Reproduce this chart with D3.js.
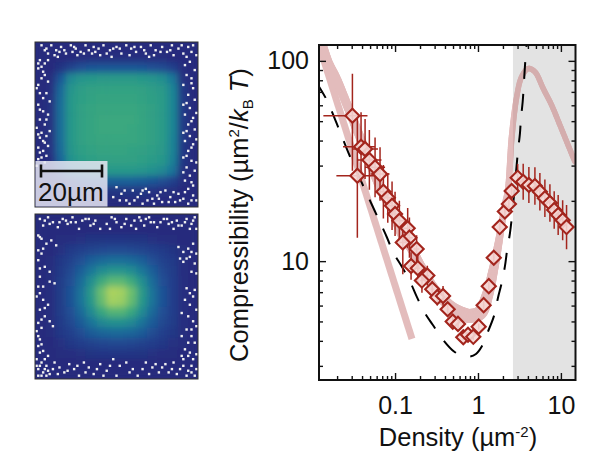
<!DOCTYPE html>
<html><head><meta charset="utf-8">
<script src="https://cdn.jsdelivr.net/npm/d3@7"></script>
<style>html,body{margin:0;background:#fff}svg{display:block}text{font-family:"Liberation Sans",Arial,sans-serif;fill:#111}</style>
</head><body><svg id="c" width="591" height="473"></svg>
<script>
// ---------- chart data ----------
const density = [0.0306,0.0351,0.0389,0.0435,0.049,0.0574,0.0659,0.0723,0.0817,0.092,0.1,0.1127,0.142,0.149,0.124,0.182,0.156,0.188,0.245,0.211,0.281,0.323,0.379,0.431,0.496,0.574,0.665,0.758,0.878,1.02,1.17,1.35,1.55,1.83,2.11,2.36,2.55,3.01,3.51,4.11,4.86,5.58,6.41,7.37,8.3,9.27,10.5,11.7];
const compress = [53.2,26.7,37.2,36.3,32,29.4,27.2,22.2,20.7,18.9,17.2,15.9,14.6,13.1,12.4,11.5,9.46,9.22,8.47,8,7.24,6.61,6.7,5.75,4.99,4.86,4.17,4.29,4.19,4.71,6.03,7.5,10.4,14.8,17.7,19.3,22.4,26.1,24.9,24,23.7,22.2,20.6,19.5,18,17,16,14.8];
const errUp   = [1.62,1.99,1.49,1.41,1.41,1.41,1.36,1.36,1.33,1.32,1.29,1.26,1.26,1.26,1.2,1.17,1.17,1.19,1.12,1.15,1.1,1.1,1.12,1.07,1.06,1.05,1.035,1.035,1.035,1.035,1.05,1.05,1.06,1.06,1.06,1.06,1.07,1.17,1.23,1.23,1.24,1.24,1.24,1.24,1.24,1.26,1.26,1.29];
const errDown = [1.88,2.04,1.49,1.41,1.41,1.41,1.36,1.36,1.33,1.32,1.29,1.26,1.26,1.26,1.44,1.17,1.17,1.19,1.12,1.15,1.1,1.1,1.12,1.07,1.06,1.05,1.035,1.035,1.035,1.035,1.05,1.05,1.06,1.06,1.06,1.06,1.07,1.17,1.23,1.23,1.24,1.24,1.24,1.24,1.24,1.26,1.26,1.29];
const xErrLeft  = [2.24,1.79,1.65,1.43,1.4,1.32,1.3,1.25,1.22,1.2,1.18,1.15,1.12,1.1,1.1,1.08,1.08,1.06,1.05,1.05,1.04,1.04,1.03,1.03,1.02,1.02,1.02,1.02,1.02,1.02,1.02,1.02,1.02,1.02,1.02,1.02,1.02,1.02,1.02,1.02,1.02,1.02,1.02,1.02,1.02,1.02,1.02,1.02];
const xErrRight = [1.52,1.65,1.47,1.43,1.4,1.32,1.3,1.25,1.22,1.2,1.18,1.15,1.12,1.1,1.1,1.08,1.08,1.06,1.05,1.05,1.04,1.04,1.03,1.03,1.02,1.02,1.02,1.02,1.02,1.02,1.02,1.02,1.02,1.02,1.02,1.02,1.02,1.02,1.02,1.02,1.02,1.02,1.02,1.02,1.02,1.02,1.02,1.02];
const bandD = [0.0125,0.0156,0.01946,0.025,0.033,0.0435,0.0528,0.0697,0.092,0.1214,0.16,0.211,0.279,0.368,0.486,0.641,0.8,1.06,1.28,1.56,1.84,2.11,2.3,2.55,2.93,3.36,4.04,4.86,6.12,7.73,9.73,12.2,14.8];
const bandC = [130,98.5,82,63.7,47.8,35.9,29.2,22.1,18,13.5,11.4,9.25,7.6,6.55,5.84,5.46,5.33,5.52,6.62,9.35,13.5,19,22.6,41.6,66.1,83.2,91.6,88.1,72.8,60.1,47.8,38,31.3];
const lineD = [0.0121,0.16];
const lineC = [120,4.09];
const dashD = [0.0114,0.01503,0.0217,0.0287,0.05,0.0794,0.0946,0.1205,0.1517,0.1825,0.2236,0.2845,0.379,0.514,0.641,0.8,0.946,1.11,1.32,1.56,1.74,1.93,2.11,2.25,2.43,2.64,2.87,3.03,3.21,3.3,3.46,3.68,3.89];
const dashC = [77.4,63.7,44.2,33.2,20,13.2,11.1,9.39,7.9,6.65,5.6,4.81,4.05,3.54,3.39,3.34,3.44,3.75,4.45,5.33,6.55,7.78,9.39,11.4,13.8,18.7,27.5,35.2,43.6,51.8,62.5,93.3,127];
const shadeFrom = 2.64, shadeTo = 15;
const xMajor = [0.1,1,10];
const xMinor = [0.02,0.03,0.04,0.05,0.06,0.07,0.08,0.09,0.2,0.3,0.4,0.5,0.6,0.7,0.8,0.9,2,3,4,5,6,7,8,9];
const yMajor = [10,100];
const yMinor = [3,4,5,6,7,8,9,20,30,40,50,60,70,80,90];
// image panels: coarse brightness grid (0..1) and hot-pixel locations (percent of panel)
const img1 = [
[.02,.02,.02,.02,.02,.02,.02,.02,.02,.02,.02,.02,.02,.02,.02,.02],
[.02,.02,.02,.02,.03,.04,.04,.04,.04,.04,.04,.03,.03,.02,.02,.02],
[.02,.02,.06,.13,.19,.21,.22,.22,.22,.22,.21,.19,.17,.12,.03,.02],
[.02,.03,.22,.44,.50,.52,.53,.53,.53,.53,.52,.50,.47,.36,.05,.02],
[.02,.04,.29,.50,.55,.57,.58,.58,.58,.58,.57,.55,.53,.42,.08,.02],
[.02,.05,.31,.52,.56,.58,.59,.59,.59,.59,.58,.56,.54,.43,.09,.02],
[.02,.05,.32,.52,.57,.59,.60,.60,.60,.60,.59,.57,.54,.43,.09,.02],
[.02,.05,.32,.52,.57,.59,.61,.61,.61,.61,.59,.57,.54,.43,.09,.02],
[.02,.05,.32,.52,.57,.59,.61,.61,.61,.60,.59,.57,.54,.43,.09,.02],
[.02,.05,.32,.52,.57,.59,.60,.60,.60,.60,.59,.57,.54,.42,.09,.02],
[.02,.05,.31,.51,.56,.58,.59,.59,.59,.58,.57,.56,.53,.42,.08,.02],
[.02,.04,.28,.49,.54,.56,.57,.57,.57,.57,.56,.54,.52,.40,.07,.02],
[.02,.03,.22,.42,.48,.50,.52,.52,.52,.52,.50,.48,.44,.34,.05,.02],
[.02,.02,.05,.13,.20,.24,.26,.26,.26,.26,.24,.21,.18,.12,.03,.02],
[.02,.02,.02,.03,.05,.06,.06,.06,.06,.06,.06,.05,.04,.03,.02,.02],
[.02,.02,.02,.02,.02,.02,.02,.02,.02,.02,.02,.02,.02,.02,.02,.02]];
const img2 = [
[.02,.02,.02,.02,.02,.02,.02,.02,.02,.02,.02,.02,.02,.02,.02,.02],
[.02,.02,.02,.02,.02,.02,.02,.02,.02,.02,.02,.02,.02,.02,.02,.02],
[.02,.02,.03,.04,.05,.06,.06,.07,.07,.06,.06,.05,.04,.03,.02,.02],
[.02,.02,.05,.09,.12,.14,.16,.17,.17,.16,.14,.12,.09,.06,.03,.02],
[.02,.03,.08,.13,.19,.25,.30,.32,.32,.30,.25,.19,.13,.09,.04,.02],
[.02,.03,.09,.16,.25,.36,.46,.50,.50,.46,.36,.25,.16,.10,.04,.02],
[.02,.03,.10,.19,.31,.47,.62,.70,.70,.62,.47,.31,.19,.11,.04,.02],
[.02,.03,.10,.20,.34,.53,.74,.88,.86,.74,.53,.34,.20,.11,.04,.02],
[.02,.03,.10,.20,.34,.52,.72,.86,.84,.72,.52,.34,.20,.11,.04,.02],
[.02,.03,.10,.19,.30,.45,.60,.68,.68,.60,.45,.30,.19,.11,.04,.02],
[.02,.03,.09,.16,.24,.34,.44,.48,.48,.44,.34,.24,.16,.10,.04,.02],
[.02,.03,.08,.12,.18,.24,.28,.30,.30,.28,.24,.18,.12,.08,.03,.02],
[.02,.02,.05,.08,.11,.13,.15,.16,.16,.15,.13,.11,.08,.05,.03,.02],
[.02,.02,.03,.04,.05,.06,.07,.07,.07,.07,.06,.05,.04,.03,.02,.02],
[.02,.02,.02,.02,.02,.02,.02,.02,.02,.02,.02,.02,.02,.02,.02,.02],
[.02,.02,.02,.02,.02,.02,.02,.02,.02,.02,.02,.02,.02,.02,.02,.02]];
const spots1 = [[4,2],[7,4],[10,2],[13,5],[16,3],[19,7],[22,2],[25,4],[28,6],[31,2],[23,6],[36,3],[35,7],[39,4],[42,2],[46,5],[50,3],[47,9],[53,7],[56,2],[59,4],[62,6],[65,3],[68,7],[71,2],[74,5],[78,3],[81,6],[84,2],[88,4],[91,7],[94,3],[97,2],[96,6],[85,8],[70,9],[40,8],[14,9],
[6,5],[8,7],[12,8],[15,6],[24,3],[26,8],[33,5],[37,6],[44,7],[48,4],[52,4],[58,8],[61,3],[67,5],[73,8],[77,6],[83,5],[90,2],[93,9],[99,8],[18,5],[30,7],
[3,11],[6,13],[8,11],[2,16],[5,18],[4,22],[8,24],[1,28],[3,31],[7,31],[9,36],[2,38],[5,42],[8,44],[3,47],[6,50],[1,52],[4,55],[9,54],[3,58],[6,61],[2,64],[5,66],[8,63],[4,70],[7,69],[2,71],
[2,13],[4,15],[6,20],[2,26],[5,34],[3,41],[7,47],[2,56],[5,60],[7,57],[3,67],[6,73],[1,75],[4,76],
[92,14],[95,12],[98,17],[93,20],[96,22],[91,26],[97,28],[94,32],[98,35],[91,38],[95,40],[92,44],[97,46],[94,50],[98,53],[91,55],[95,57],[92,60],[97,62],[94,66],[91,70],[96,72],[93,76],[98,78],[95,81],[92,84],[97,87],
[96,25],[93,37],[99,43],[96,48],[93,54],[99,59],[96,64],[93,69],[99,73],[91,79],[96,85],[94,89],
[50,88],[53,92],[56,96],[60,90],[63,94],[66,98],[70,91],[72,95],[68,89],[75,93],[78,97],[80,90],[83,94],[86,97],[88,92],[91,95],[94,98],[97,93],[99,96],[58,98],[48,94],
[52,96],[55,90],[61,96],[65,92],[69,96],[73,98],[77,91],[82,97],[85,91],[89,96],[92,91],[96,96],[66,90],[76,95]];
const spots2 = [[3,3],[5,7],[8,2],[11,5],[14,8],[17,3],[20,6],[23,2],[25,5],[27,9],[31,3],[34,7],[37,4],[40,9],[44,6],[47,2],[50,5],[53,8],[46,9],[56,3],[59,7],[62,9],[65,4],[67,7],[70,2],[73,5],[75,8],[79,3],[82,6],[85,9],[87,4],[90,7],[93,3],[96,6],[98,2],[99,9],
[6,4],[9,6],[15,5],[19,4],[22,5],[29,4],[33,3],[36,6],[49,3],[55,6],[61,4],[64,2],[68,3],[71,5],[77,5],[81,3],[84,5],[88,7],[92,5],[95,9],[97,4],
[2,13],[4,15],[7,18],[10,16],[13,19],[2,22],[4,24],[6,32],[9,35],[3,38],[9,41],[5,44],[12,42],[3,48],[1,50],[5,52],[8,55],[3,58],[6,62],[9,65],[2,66],[4,69],[1,71],[11,68],[3,76],[2,80],[5,83],[8,86],[1,88],
[3,14],[5,21],[2,28],[3,33],[2,44],[6,57],[4,64],[2,74],[4,79],[3,84],[6,88],
[88,20],[91,23],[94,21],[97,18],[99,24],[91,29],[95,26],[89,27],[98,30],[96,35],[93,45],[98,46],[92,52],[97,50],[95,55],[90,60],[94,62],[97,65],[99,68],[93,70],[90,74],[96,74],[98,78],[92,82],[95,84],[90,86],[97,88],
[96,23],[93,27],[99,36],[95,48],[99,58],[96,70],[94,78],[91,88],[94,86],[99,85],
[4,90],[7,92],[2,94],[5,96],[9,97],[12,90],[15,93],[18,96],[21,91],[24,94],[27,98],[30,90],[33,93],[36,97],[40,91],[44,95],[48,88],[52,92],[56,90],[60,94],[63,98],[68,90],[72,93],[76,96],[80,91],[84,94],[87,97],[91,92],[94,95],[98,98],[50,98],[2,98],[1,92],
[3,92],[6,94],[8,95],[4,98],[7,98],[11,94],[14,97],[20,95],[26,92],[31,96],[38,94],[42,98],[46,92],[58,96],[66,94],[70,97],[74,91],[78,93],[82,96],[85,90],[89,94],[93,98],[96,92],[96,96],[99,94]];

// ---------- drawing ----------
const svg = d3.select("#c");
const x = d3.scaleLog().domain([0.0121,15]).range([319,575.5]);
const y = d3.scaleLog().domain([120,2.55]).range([45,380]);
const defs = svg.append("defs");
defs.append("clipPath").attr("id","plot").append("rect")
  .attr("x",319).attr("y",45).attr("width",256.5).attr("height",335);
defs.append("filter").attr("id","soft").attr("x","-10%").attr("y","-10%").attr("width","120%").attr("height","120%")
  .append("feGaussianBlur").attr("stdDeviation",3);
const ramp = d3.scaleSequential(d3.interpolateRgbBasis(["#27277a","#1f4f98","#1b7d9c","#27a184","#70c26c","#cfdc58"])).domain([0,.95]);

function panel(grid, spots, top, id){
  const px = d3.scaleLinear().domain([0,16]).range([35,198]);
  const py = d3.scaleLinear().domain([0,16]).range([top,top+165]);
  defs.append("clipPath").attr("id",id).append("rect").attr("x",35).attr("y",top).attr("width",163).attr("height",165);
  const g = svg.append("g").attr("clip-path",`url(#${id})`);
  g.append("rect").attr("x",35).attr("y",top).attr("width",163).attr("height",165).attr("fill",ramp(.02));
  const h = g.append("g").attr("filter","url(#soft)");
  grid.forEach((row,r)=>row.forEach((v,c)=>{
    h.append("rect").attr("x",px(c)).attr("y",py(r)).attr("width",px(1)-px(0)+.5).attr("height",py(1)-py(0)+.5).attr("fill",ramp(v));
  }));
  const sx = d3.scaleLinear().domain([0,100]).range([35,198]);
  const sy = d3.scaleLinear().domain([0,100]).range([top,top+165]);
  g.selectAll(null).data(spots).join("rect")
    .attr("x",d=>sx(d[0])-1.2).attr("y",d=>sy(d[1])-1.2).attr("width",2.4).attr("height",2.4).attr("fill","#f0f0f0");
  svg.append("rect").attr("x",35).attr("y",top).attr("width",163).attr("height",165).attr("fill","none").attr("stroke","#333").attr("stroke-width",1);
}
panel(img1,spots1,42,"p1");
panel(img2,spots2,214,"p2");
// scale bar
svg.append("rect").attr("x",35.5).attr("y",161).attr("width",72).attr("height",45.5).attr("fill","#e6e6f2").attr("opacity",.85);
svg.append("path").attr("d","M41,171H102M41,164.5V177.5M102,164.5V177.5").attr("stroke","#111").attr("stroke-width",2.6).attr("fill","none");
svg.append("text").attr("x",38).attr("y",201).attr("font-size",26).text("20µm");

// plot
const plot = svg.append("g").attr("clip-path","url(#plot)");
plot.append("rect").attr("x",x(shadeFrom)).attr("y",45).attr("width",x(shadeTo)-x(shadeFrom)).attr("height",335).attr("fill","#e3e3e3");
const bandCol = "#c47272";
const bands = plot.append("g").attr("opacity",.47);
const line2 = d3.line().x(d=>x(d[0])).y(d=>y(d[1]));
bands.append("path").attr("d",line2(d3.zip(lineD,lineC))).attr("fill","none").attr("stroke",bandCol).attr("stroke-width",7);
const width = d3.scaleLog().domain([0.012,0.3,0.65,1.05,1.9,3,15]).range([9,9,14,14,7,5.5,5.5]);
const fine = svg.append("path").attr("d",d3.line().curve(d3.curveCatmullRom.alpha(.5)).x(d=>x(d[0])).y(d=>y(d[1]))(d3.zip(bandD,bandC))).attr("fill","none").attr("stroke","none");
const node = fine.node(), L = node.getTotalLength();
d3.range(0,L,2).forEach(s=>{
  const a=node.getPointAtLength(s), b=node.getPointAtLength(Math.min(L,s+2));
  bands.append("line").attr("x1",a.x).attr("y1",a.y).attr("x2",b.x).attr("y2",b.y)
    .attr("stroke",bandCol).attr("stroke-linecap","round").attr("stroke-width",width(x.invert((a.x+b.x)/2)));
});
plot.append("path").attr("d",d3.line().x(d=>x(d[0])).y(d=>y(d[1])).curve(d3.curveCatmullRom.alpha(.5))(d3.zip(dashD,dashC)))
  .attr("fill","none").attr("stroke","#000").attr("stroke-width",2).attr("stroke-dasharray","17 15");
const pts = density.map((d,i)=>({d,c:compress[i],u:errUp[i],l:errDown[i],xl:xErrLeft[i],xr:xErrRight[i]}));
const red = "#a3251d";
const eb = plot.append("g").attr("stroke",red).attr("stroke-width",1.5);
pts.forEach(p=>{
  eb.append("line").attr("x1",x(p.d)).attr("x2",x(p.d)).attr("y1",y(p.c*p.u)).attr("y2",y(p.c/p.l));
  eb.append("line").attr("x1",x(p.d/p.xl)).attr("x2",x(p.d*p.xr)).attr("y1",y(p.c)).attr("y2",y(p.c));
});
plot.selectAll("path.m").data(pts).join("path").attr("class","m")
  .attr("d",d3.symbol(d3.symbolSquare,100)())
  .attr("transform",p=>`translate(${x(p.d)},${y(p.c)}) rotate(45)`)
  .attr("fill","#f6d8d6").attr("fill-opacity",.9).attr("stroke",red).attr("stroke-width",2.1);

// axes
function axis(gen,vals,len,tr,lab){
  const g=svg.append("g").attr("transform",tr).call(gen.tickValues(vals).tickSize(len).tickPadding(6).tickFormat(lab||(()=>"")));
  g.select(".domain").remove();
  g.selectAll("line").attr("stroke","#111").attr("stroke-width",1.4);
  g.selectAll("text").attr("font-size",25).attr("font-family",'"Liberation Sans"').attr("fill","#111");
  return g;
}
const fx=d=>d3.format("~g")(d);
axis(d3.axisBottom(x),xMajor,-7,"translate(0,380)",fx).selectAll("text").attr("y",16).attr("dy","0.71em");
axis(d3.axisBottom(x),xMinor,-4,"translate(0,380)");
axis(d3.axisTop(x),xMajor,-7,"translate(0,45)");
axis(d3.axisTop(x),xMinor,-4,"translate(0,45)");
axis(d3.axisLeft(y),yMajor,-7,"translate(319,0)",fx).selectAll("text").attr("x",-10);
axis(d3.axisLeft(y),yMinor,-4,"translate(319,0)");
axis(d3.axisRight(y),yMajor,-7,"translate(575.5,0)");
axis(d3.axisRight(y),yMinor,-4,"translate(575.5,0)");
svg.append("rect").attr("x",319).attr("y",45).attr("width",256.5).attr("height",335).attr("fill","none").attr("stroke","#111").attr("stroke-width",2);

// titles
const xt=svg.append("text").attr("x",458).attr("y",446).attr("text-anchor","middle").attr("font-size",25.5);
xt.append("tspan").text("Density (µm");
xt.append("tspan").attr("dy",-9).attr("font-size",15).text("-2");
xt.append("tspan").attr("dy",9).text(")");
const yt=svg.append("text").attr("transform","translate(248,215) rotate(-90)").attr("text-anchor","middle").attr("font-size",25.5);
yt.append("tspan").text("Compressibility (µm");
yt.append("tspan").attr("dy",-9).attr("font-size",15).text("2");
yt.append("tspan").attr("dy",9).text("/");
yt.append("tspan").attr("font-style","italic").text("k");
yt.append("tspan").attr("dy",5).attr("font-size",15).text("B");
yt.append("tspan").attr("dy",-5).attr("font-style","italic").text(" T");
yt.append("tspan").text(")");
</script></body></html>
